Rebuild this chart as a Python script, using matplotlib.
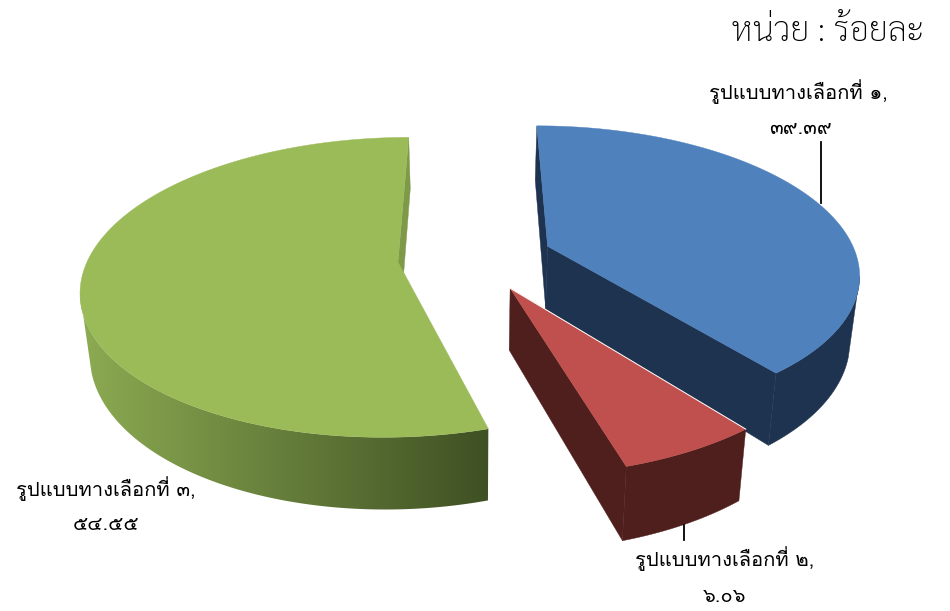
import numpy as np
import matplotlib
matplotlib.use('Agg')
import matplotlib.pyplot as plt
from matplotlib.colors import LinearSegmentedColormap
from matplotlib.patches import Polygon

values = [39.39, 6.06, 54.55]
top_colors = ['#4F81BD', '#C0504D', '#9BBB59']
side_colors = ['#1E3350', '#4F1F1D', '#7E9A48']
names = ['รูปแบบทางเลือกที่ ๑,', 'รูปแบบทางเลือกที่ ๒,', 'รูปแบบทางเลือกที่ ๓,']
value_labels = ['๓๙.๓๙', '๖.๐๖', '๕๔.๕๕']
unit_label = 'หน่วย : ร้อยละ'

# perspective camera, fitted by eye
vx, vy = 472, -600
H = 862
p = 0.169
R = 311
shrink = 0.975
offsets = [(77, 0.11), (37, -0.175), (-74, 0.0)]
depths = [64, 60, 60]
thai = 'Loma'
green_rim = LinearSegmentedColormap.from_list('green_rim', ['#8CAB52', '#3F5023'])


def project(X, Y, depth=0):
    w = 1 + p*Y
    x = X/w
    y = (H + depth)/w
    if depth:
        x = x*shrink
    return vx + x, vy + y


def edge(ox, oy, th, depth=0):
    return project(ox + R*np.sin(th), oy + np.cos(th), depth)


def draw_wall(ax, ox, oy, th, depth, color):
    a = project(ox, oy)
    b = edge(ox, oy, th)
    c = edge(ox, oy, th, depth)
    d = project(ox, oy, depth)
    ax.add_patch(Polygon([a, b, c, d], fc=color, ec=color, lw=0.3))


fig = plt.figure(figsize=(9.5, 6.11), dpi=100)
ax = fig.add_axes([0, 0, 1, 1])

fracs = np.array(values)/sum(values)
ends = np.cumsum(fracs)*2*np.pi
starts = ends - fracs*2*np.pi

for i in [2, 0, 1]:
    ox, oy = offsets[i]
    depth = depths[i]
    s, e = starts[i], ends[i]
    ths = np.linspace(s, e, 300)

    # outer rim, the silhouette joins the two arcs with a straight line
    upper = ths[np.cos(ths) < -0.2]
    lower = ths[np.cos(ths) < -0.3]
    rim = [edge(ox, oy, t) for t in upper] + [edge(ox, oy, t, depth) for t in lower[::-1]]
    if i == 2:
        patch = Polygon(rim, fc='none', ec='none')
        ax.add_patch(patch)
        xs = [q[0] for q in rim]
        ys = [q[1] for q in rim]
        im = ax.imshow(np.linspace(0, 1, 256).reshape(1, -1), cmap=green_rim, aspect='auto',
                       extent=[min(xs), max(xs), max(ys), min(ys)], interpolation='bilinear')
        im.set_clip_path(patch)
    else:
        ax.add_patch(Polygon(rim, fc=side_colors[i], ec=side_colors[i], lw=0.3))

    # cut faces
    if i == 0:
        draw_wall(ax, ox, oy, s, depth, side_colors[0])
        draw_wall(ax, ox, oy, e, depth, side_colors[0])
    elif i == 1:
        draw_wall(ax, ox, oy, e, depth, side_colors[1])
    else:
        draw_wall(ax, ox, oy, e, depth, side_colors[2])

    # top surface
    pts = [project(ox, oy)] + [edge(ox, oy, t) for t in ths]
    ax.add_patch(Polygon(pts, fc=top_colors[i], ec=top_colors[i], lw=0.3))

# white highlight on the red slice
ox, oy = offsets[1]
a = project(ox, oy)
b = edge(ox, oy, starts[1])
ax.plot([a[0], b[0]], [a[1], b[1]], color='white', lw=0.7)

# leader lines
ax.plot([820.5, 820.5], [142, 203], color='black', lw=1.3)
ax.plot([684, 684], [525, 540], color='black', lw=1.3)

ax.text(828, 32, unit_label, family='Sarabun', fontsize=24.5, weight='light', ha='center', va='center', color='black')
ax.text(798, 92, names[0], family=thai, fontsize=14.5, ha='center', va='center', color='black')
ax.text(800, 128, value_labels[0], family=thai, fontsize=14.5, ha='center', va='center', color='black')
ax.text(725, 559, names[1], family=thai, fontsize=14.5, ha='center', va='center', color='black')
ax.text(725, 596, value_labels[1], family=thai, fontsize=14.5, ha='center', va='center', color='black')
ax.text(106, 489, names[2], family=thai, fontsize=14.5, ha='center', va='center', color='black')
ax.text(106, 525, value_labels[2], family=thai, fontsize=14.5, ha='center', va='center', color='black')

ax.set_xlim(0, 950)
ax.set_ylim(611, 0)
ax.axis('off')

fig.savefig('out.png', dpi=100)
